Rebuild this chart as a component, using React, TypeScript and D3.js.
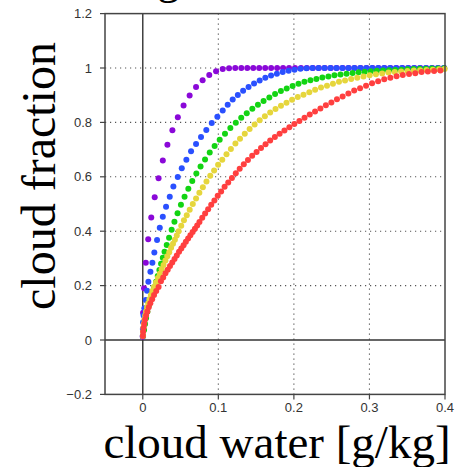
import * as d3 from 'd3'
import React, { useEffect, useRef } from 'react'

// dots, [cloud water g/kg, cloud fraction]
const purple: [number, number][] = [
  [0, 0.012], [0.0004, 0.1], [0.0017, 0.19], [0.004, 0.284], [0.0072, 0.37], [0.0112, 0.45],
  [0.0158, 0.525], [0.0209, 0.595], [0.0265, 0.66], [0.0326, 0.718], [0.0392, 0.771], [0.0464, 0.819],
  [0.054, 0.862], [0.062, 0.899], [0.0705, 0.93], [0.0792, 0.955], [0.088, 0.974], [0.097, 0.988],
  [0.1058, 0.996], [0.1142, 0.999], [0.1224, 1], [0.1304, 1], [0.1383, 1], [0.1462, 1], [0.1541, 1],
  [0.162, 1], [0.1699, 1], [0.1778, 1], [0.1857, 1], [0.1936, 1], [0.2015, 1], [0.2094, 1], [0.2173, 1],
  [0.2252, 1], [0.2331, 1], [0.241, 1], [0.2489, 1], [0.2568, 1], [0.2647, 1], [0.2726, 1], [0.2805, 1],
  [0.2884, 1], [0.2963, 1], [0.3042, 1], [0.3121, 1], [0.32, 1], [0.3279, 1], [0.3358, 1], [0.3437, 1],
  [0.3516, 1], [0.3595, 1], [0.3674, 1], [0.3753, 1], [0.3832, 1], [0.3911, 1], [0.399, 1],
]

const blue: [number, number][] = [
  [0, 0.015], [0.0001, 0.04], [0.0004, 0.065], [0.0011, 0.09], [0.0021, 0.117], [0.004, 0.147],
  [0.0057, 0.181], [0.0074, 0.214], [0.0101, 0.251], [0.0127, 0.284], [0.0153, 0.322], [0.0189, 0.368],
  [0.0225, 0.413], [0.0265, 0.453], [0.0308, 0.49], [0.0357, 0.527], [0.0405, 0.564], [0.0463, 0.599],
  [0.0516, 0.631], [0.0577, 0.663], [0.0639, 0.694], [0.0705, 0.721], [0.0771, 0.746], [0.0841, 0.772],
  [0.0913, 0.798], [0.0987, 0.821], [0.1058, 0.844], [0.1124, 0.865], [0.119, 0.884], [0.1258, 0.901],
  [0.1328, 0.916], [0.14, 0.93], [0.1473, 0.943], [0.1547, 0.954], [0.1622, 0.964], [0.1698, 0.972],
  [0.1775, 0.979], [0.1852, 0.985], [0.193, 0.99], [0.2008, 0.994], [0.2087, 0.997], [0.2166, 0.999],
  [0.2245, 1], [0.2324, 1], [0.2403, 1], [0.2482, 1], [0.2561, 1], [0.264, 1], [0.2719, 1], [0.2798, 1],
  [0.2877, 1], [0.2956, 1], [0.3035, 1], [0.3114, 1], [0.3193, 1], [0.3272, 1], [0.3351, 1], [0.343, 1],
  [0.3509, 1], [0.3588, 1], [0.3667, 1], [0.3746, 1], [0.3825, 1], [0.3904, 1], [0.3983, 1],
]

const green: [number, number][] = [
  [0.0004, 0.015], [0.0017, 0.037], [0.003, 0.059], [0.0044, 0.081], [0.0061, 0.104], [0.0083, 0.129],
  [0.0106, 0.151], [0.0127, 0.172], [0.0149, 0.194], [0.0176, 0.214], [0.0198, 0.235], [0.022, 0.257],
  [0.0242, 0.28], [0.0265, 0.302], [0.0288, 0.324], [0.0317, 0.349], [0.0348, 0.376], [0.0382, 0.405],
  [0.0419, 0.435], [0.046, 0.466], [0.0505, 0.497], [0.0553, 0.527], [0.0603, 0.556], [0.0655, 0.585],
  [0.0709, 0.612], [0.0765, 0.638], [0.0824, 0.664], [0.0886, 0.689], [0.0951, 0.713], [0.1018, 0.736],
  [0.1088, 0.758], [0.1159, 0.779], [0.1231, 0.799], [0.1303, 0.817], [0.1376, 0.834], [0.145, 0.85],
  [0.1524, 0.865], [0.1599, 0.879], [0.1675, 0.892], [0.1751, 0.904], [0.1828, 0.915], [0.1905, 0.925],
  [0.1983, 0.934], [0.2061, 0.942], [0.214, 0.949], [0.2219, 0.955], [0.2298, 0.96], [0.2377, 0.965],
  [0.2457, 0.969], [0.2537, 0.973], [0.2617, 0.976], [0.2697, 0.979], [0.2777, 0.982], [0.2857, 0.984],
  [0.2937, 0.986], [0.3017, 0.988], [0.3098, 0.99], [0.3179, 0.991], [0.326, 0.992], [0.3341, 0.993],
  [0.3422, 0.994], [0.3503, 0.995], [0.3584, 0.996], [0.3665, 0.997], [0.3746, 0.997], [0.3827, 0.998],
  [0.3908, 0.998], [0.3989, 0.999],
]

const yellow: [number, number][] = [
  [0.0001, 0.015], [0.0004, 0.03], [0.0008, 0.045], [0.0014, 0.06], [0.0022, 0.075], [0.0032, 0.09],
  [0.0043, 0.105], [0.0057, 0.12], [0.0072, 0.135], [0.0088, 0.15], [0.0107, 0.165], [0.0127, 0.18],
  [0.0149, 0.195], [0.0175, 0.211], [0.02, 0.228], [0.0225, 0.244], [0.025, 0.26], [0.0275, 0.276],
  [0.03, 0.292], [0.0325, 0.308], [0.035, 0.323], [0.0375, 0.339], [0.04, 0.354], [0.0425, 0.369],
  [0.045, 0.384], [0.0475, 0.4], [0.0509, 0.42], [0.0545, 0.44], [0.0582, 0.459], [0.0621, 0.479],
  [0.0662, 0.5], [0.0705, 0.52], [0.0749, 0.541], [0.0795, 0.562], [0.0843, 0.583], [0.0893, 0.604],
  [0.0944, 0.623], [0.0997, 0.644], [0.1052, 0.663], [0.1108, 0.683], [0.1166, 0.702], [0.1226, 0.722],
  [0.1287, 0.74], [0.135, 0.758], [0.1414, 0.776], [0.148, 0.792], [0.1547, 0.808], [0.1616, 0.823],
  [0.1686, 0.836], [0.1757, 0.849], [0.1829, 0.861], [0.1902, 0.872], [0.1976, 0.883], [0.2051, 0.893],
  [0.2127, 0.902], [0.2204, 0.911], [0.2281, 0.92], [0.2359, 0.928], [0.2438, 0.935], [0.2517, 0.942],
  [0.2597, 0.949], [0.2677, 0.954], [0.2758, 0.96], [0.2839, 0.964], [0.2921, 0.969], [0.3003, 0.973],
  [0.3086, 0.977], [0.3169, 0.98], [0.3252, 0.983], [0.3335, 0.985], [0.3419, 0.987], [0.3503, 0.989],
  [0.3587, 0.991], [0.3671, 0.992], [0.3755, 0.993], [0.3839, 0.994], [0.3923, 0.995], [0.3995, 0.996],
]

const red: [number, number][] = [
  [0.0001, 0.015], [0.0005, 0.03], [0.0011, 0.045], [0.002, 0.06], [0.0031, 0.075], [0.0044, 0.09],
  [0.006, 0.105], [0.0079, 0.12], [0.01, 0.135], [0.0124, 0.15], [0.0149, 0.165], [0.0178, 0.18],
  [0.0209, 0.195], [0.024, 0.216], [0.027, 0.23], [0.03, 0.245], [0.033, 0.258], [0.036, 0.272],
  [0.039, 0.285], [0.042, 0.298], [0.045, 0.311], [0.048, 0.324], [0.051, 0.336], [0.054, 0.348],
  [0.057, 0.361], [0.06, 0.373], [0.063, 0.385], [0.066, 0.397], [0.069, 0.409], [0.072, 0.421],
  [0.075, 0.434], [0.0787, 0.449], [0.0825, 0.465], [0.0865, 0.481], [0.0906, 0.497], [0.0948, 0.513],
  [0.0992, 0.53], [0.1037, 0.546], [0.1083, 0.563], [0.1131, 0.579], [0.118, 0.596], [0.1231, 0.613],
  [0.1283, 0.63], [0.1337, 0.646], [0.1392, 0.662], [0.1448, 0.677], [0.1506, 0.691], [0.1565, 0.706],
  [0.1625, 0.72], [0.1686, 0.733], [0.1748, 0.746], [0.1811, 0.758], [0.1875, 0.77], [0.194, 0.782],
  [0.2006, 0.794], [0.2073, 0.805], [0.2141, 0.817], [0.221, 0.829], [0.228, 0.84], [0.2351, 0.851],
  [0.2423, 0.863], [0.2496, 0.873], [0.257, 0.885], [0.2645, 0.895], [0.2721, 0.906], [0.2798, 0.917],
  [0.2876, 0.926], [0.2955, 0.935], [0.3035, 0.944], [0.3115, 0.951], [0.3196, 0.959], [0.3277, 0.964],
  [0.3359, 0.97], [0.3441, 0.974], [0.3524, 0.978], [0.3607, 0.981], [0.369, 0.985], [0.3773, 0.987],
  [0.3856, 0.989], [0.3939, 0.991],
]

const seriesColors = ['#8a08d8', '#2a50ff', '#12d412', '#e6d63c', '#ff3f3f']
const xTicks = [0, 0.1, 0.2, 0.3, 0.4]
const yTicks = [-0.2, 0, 0.2, 0.4, 0.6, 0.8, 1, 1.2]
const xGrid = [0.1, 0.2, 0.3]
const yGrid = [0.2, 0.4, 0.6, 0.8, 1]

const W = 456
const H = 467
const box = { left: 105, right: 445, top: 13.6, bottom: 394.4 }

const App = () => {
  const ref = useRef<SVGSVGElement>(null)

  useEffect(() => {
    if (!ref.current) return
    const svg = d3.select(ref.current)
    svg.selectAll('*').remove()

    const x = d3.scaleLinear().domain([-0.05, 0.4]).range([box.left, box.right])
    const y = d3.scaleLinear().domain([-0.2, 1.2]).range([box.bottom, box.top])
    const fmt = d3.format('~g')

    // bottom of the title glyph that is cut off above the picture
    svg.append('text')
      .attr('x', 157).attr('y', -7)
      .attr('font-family', 'Liberation Serif, serif').attr('font-size', 46)
      .attr('fill', '#000').text('g')

    // dotted grid
    const grid = svg.append('g').attr('stroke', '#555').attr('stroke-width', 1.1).attr('stroke-dasharray', '1.2,3.8')
    grid.selectAll('line.gx').data(xGrid).join('line')
      .attr('class', 'gx')
      .attr('x1', (d) => x(d)).attr('x2', (d) => x(d))
      .attr('y1', box.top).attr('y2', box.bottom)
    grid.selectAll('line.gy').data(yGrid).join('line')
      .attr('class', 'gy')
      .attr('x1', box.left).attr('x2', box.right)
      .attr('y1', (d) => y(d)).attr('y2', (d) => y(d))

    // zero lines
    svg.append('line').attr('x1', x(0)).attr('x2', x(0)).attr('y1', box.top).attr('y2', box.bottom)
      .attr('stroke', '#333').attr('stroke-width', 1.4)
    svg.append('line').attr('x1', box.left).attr('x2', box.right).attr('y1', y(0)).attr('y2', y(0))
      .attr('stroke', '#333').attr('stroke-width', 1.4)

    // dots, purple first, red on top
    const all = [purple, blue, green, yellow, red]
    all.forEach((pts, i) => {
      svg.append('g')
        .attr('fill', seriesColors[i])
        .selectAll('circle')
        .data(pts)
        .join('circle')
        .attr('cx', (d) => x(d[0]))
        .attr('cy', (d) => y(d[1]))
        .attr('r', 3)
    })

    // frame
    svg.append('rect')
      .attr('x', box.left).attr('y', box.top)
      .attr('width', box.right - box.left).attr('height', box.bottom - box.top)
      .attr('fill', 'none').attr('stroke', '#444').attr('stroke-width', 1.5)

    // left ticks
    const yAxis = svg.append('g').attr('font-family', 'Liberation Sans, Arial, sans-serif').attr('font-size', 13)
    yAxis.selectAll('line').data(yTicks).join('line')
      .attr('x1', box.left - 5).attr('x2', box.left)
      .attr('y1', (d) => y(d)).attr('y2', (d) => y(d))
      .attr('stroke', '#444').attr('stroke-width', 1.2)
    yAxis.selectAll('text').data(yTicks).join('text')
      .attr('x', box.left - 13).attr('y', (d) => y(d)).attr('dy', '0.35em')
      .attr('text-anchor', 'end').attr('fill', '#333')
      .text((d) => fmt(d))

    // bottom ticks
    const xAxis = svg.append('g').attr('font-family', 'Liberation Sans, Arial, sans-serif').attr('font-size', 13)
    xAxis.selectAll('line').data(xTicks).join('line')
      .attr('x1', (d) => x(d)).attr('x2', (d) => x(d))
      .attr('y1', box.bottom).attr('y2', box.bottom + 5)
      .attr('stroke', '#444').attr('stroke-width', 1.2)
    xAxis.selectAll('text').data(xTicks).join('text')
      .attr('x', (d) => x(d)).attr('y', box.bottom + 17.5)
      .attr('text-anchor', 'middle').attr('fill', '#333')
      .text((d) => fmt(d))

    // axis titles
    svg.append('text')
      .attr('x', 277).attr('y', 458)
      .attr('text-anchor', 'middle')
      .attr('font-family', 'Liberation Serif, Times New Roman, serif').attr('font-size', 47)
      .attr('fill', '#000').text('cloud water [g/kg]')
    svg.append('text')
      .attr('transform', 'translate(55,176) rotate(-90)')
      .attr('text-anchor', 'middle')
      .attr('font-family', 'Liberation Serif, Times New Roman, serif').attr('font-size', 48)
      .attr('fill', '#000').text('cloud fraction')
  }, [])

  return (
    <svg ref={ref} width={W} height={H} style={{ position: 'absolute', left: 0, top: 0, background: '#fff' }} />
  )
}

export default App
